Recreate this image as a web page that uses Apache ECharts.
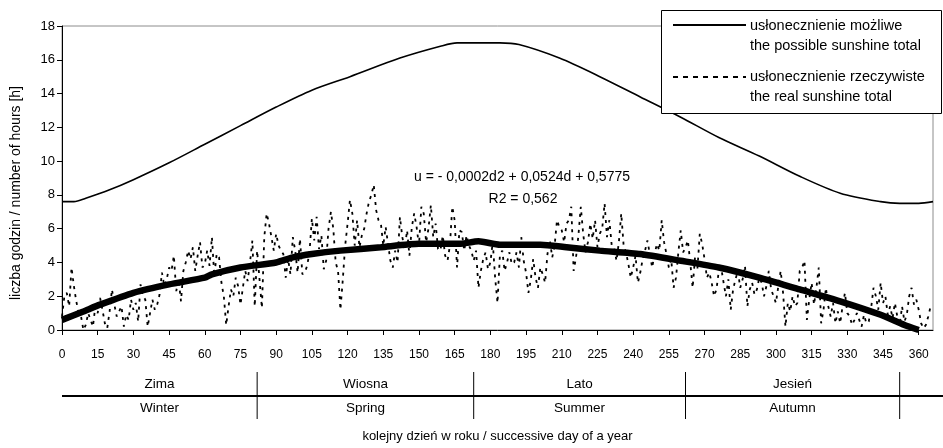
<!DOCTYPE html>
<html>
<head>
<meta charset="utf-8">
<script src="https://cdn.jsdelivr.net/npm/echarts@6/dist/echarts.min.js"></script>
<style>
html, body { margin: 0; padding: 0; background: #fff; }
#main { width: 943px; height: 448px; }
</style>
</head>
<body>
<div id="main"></div>
<script>
var myChart = echarts.init(document.getElementById('main'));

// daily real sunshine, day 0..365
var realSunshine = [
    0.8, 2.0, 2.2, 1.4, 3.7, 2.6, 1.7, 1.0, 0.8, 0.0,
    0.3, 1.0, 0.6, 0.2, 1.4, 1.0, 1.9, 1.2, 0.4, 0.1,
    1.1, 2.4, 1.5, 0.8, 1.1, 1.4, 0.2, 0.9, 0.6, 1.8,
    1.2, 1.6, 0.5, 2.7, 2.0, 1.8, 0.2, 1.0, 1.8, 1.2,
    1.5, 2.1, 3.4, 2.6, 3.0, 3.7, 3.5, 4.4, 2.3, 3.0,
    1.7, 3.5, 4.0, 4.7, 4.2, 4.9, 3.5, 4.4, 5.2, 3.7,
    3.9, 4.7, 3.8, 5.5, 3.2, 4.5, 4.3, 2.8, 2.0, 0.3,
    1.4, 2.4, 2.0, 3.1, 2.6, 1.5, 2.5, 3.5, 2.9, 4.0,
    5.3, 1.4, 4.7, 3.0, 1.3, 5.5, 6.9, 6.3, 5.5, 4.7,
    5.7, 5.0, 4.7, 4.5, 3.1, 4.2, 3.3, 5.5, 4.7, 3.4,
    5.4, 3.3, 3.4, 3.8, 4.6, 6.6, 5.3, 6.7, 4.8, 5.6,
    3.6, 4.1, 6.0, 7.0, 6.0, 4.0, 3.5, 1.2, 3.0, 5.0,
    6.3, 7.7, 6.9, 5.0, 6.5, 4.9, 5.6, 6.0, 6.9, 7.6,
    8.0, 8.6, 7.1, 6.5, 6.3, 5.0, 6.1, 5.1, 4.1, 3.7,
    4.7, 4.0, 6.7, 5.5, 4.8, 5.9, 4.4, 6.1, 6.9, 6.1,
    5.0, 7.3, 6.9, 5.2, 6.0, 7.4, 5.5, 6.3, 4.8, 4.7,
    5.6, 4.4, 4.1, 5.0, 7.3, 6.5, 3.7, 5.9, 5.8, 4.7,
    5.6, 5.0, 4.7, 4.1, 4.7, 2.5, 3.5, 4.2, 4.6, 3.6,
    4.0, 5.2, 3.1, 1.6, 4.4, 4.7, 3.5, 4.0, 4.6, 3.9,
    4.0, 4.6, 3.7, 5.5, 4.1, 3.4, 2.2, 3.0, 4.2, 3.1,
    2.5, 3.7, 3.3, 2.8, 4.5, 5.3, 4.3, 5.0, 6.5, 6.1,
    5.9, 5.2, 6.3, 6.5, 7.3, 3.5, 4.3, 5.6, 7.3, 5.7,
    4.6, 5.2, 6.3, 5.4, 6.5, 4.9, 5.7, 6.0, 7.5, 5.5,
    6.5, 5.0, 4.9, 4.1, 5.2, 6.9, 5.0, 4.6, 3.9, 3.1,
    3.7, 4.4, 2.8, 3.4, 4.2, 4.7, 5.3, 4.5, 3.7, 4.5,
    5.1, 4.7, 6.5, 5.2, 4.5, 3.7, 4.2, 2.5, 3.1, 4.6,
    5.9, 4.6, 4.9, 5.3, 4.0, 2.5, 4.3, 3.6, 5.7, 5.1,
    4.2, 3.1, 3.4, 2.8, 2.0, 2.4, 3.5, 3.7, 2.8, 2.0,
    3.0, 1.2, 2.4, 3.0, 3.5, 2.5, 3.0, 3.8, 1.4, 2.4,
    2.8, 2.1, 2.4, 3.1, 2.8, 2.0, 2.6, 3.5, 2.4, 2.0,
    1.6, 2.6, 3.5, 2.2, 0.2, 1.6, 1.1, 2.0, 1.4, 1.6,
    3.5, 3.7, 4.1, 0.6, 1.8, 2.8, 1.5, 2.5, 3.7, 0.4,
    1.2, 2.5, 1.4, 0.8, 1.6, 0.4, 1.1, 0.4, 1.4, 2.2,
    1.0, 0.8, 0.3, 0.6, 1.0, 0.6, 0.2, 0.9, 0.4, 0.5,
    1.3, 2.5, 2.0, 1.2, 2.8, 1.6, 2.0, 0.9, 1.4, 0.7,
    1.6, 0.8, 0.3, 1.4, 0.5, 0.9, 2.0, 2.5, 1.5, 1.8,
    1.2, 0.4, 0.1, 0.3, 0.8, 1.4
];

// possible sunshine (day length), read at sample days
var possibleDays = [0, 5, 10, 20, 30, 45, 60, 75, 90, 105, 121, 142, 159, 166, 175, 184, 192, 209, 226, 243, 260, 276, 293, 310, 327, 344, 352, 360, 366];
var possibleHours = [7.6, 7.6, 7.8, 8.3, 8.9, 9.9, 11.0, 12.1, 13.2, 14.2, 15.0, 16.1, 16.8, 17.0, 17.0, 17.0, 16.9, 16.1, 15.0, 13.8, 12.6, 11.4, 10.3, 9.1, 8.1, 7.6, 7.5, 7.5, 7.6];

// trend line
var trendDays = [0, 9, 16, 30, 45, 60, 63, 75, 90, 97, 105, 117, 134, 150, 167, 175, 184, 201, 212, 226, 243, 260, 276, 293, 310, 327, 344, 354, 360];
var trendHours = [0.6, 1.1, 1.5, 2.2, 2.7, 3.1, 3.3, 3.7, 4.0, 4.3, 4.5, 4.7, 4.9, 5.1, 5.1, 5.25, 5.05, 5.05, 4.9, 4.7, 4.5, 4.1, 3.7, 3.1, 2.4, 1.7, 0.9, 0.3, 0.0];

var seasonsPl = ['Zima', 'Wiosna', 'Lato', 'Jesień'];
var seasonsEn = ['Winter', 'Spring', 'Summer', 'Autumn'];
var seasonBreaks = [0, 82, 173, 262, 352];

var equationText = 'u = - 0,0002d2 + 0,0524d + 0,5775';
var r2Text = 'R2 = 0,562';
var yTitle = 'liczba godzin / number of hours [h]';

var FONT = '"Liberation Sans", Arial, sans-serif';

function pairs(xs, ys) {
    var res = [];
    for (var i = 0; i < xs.length; i++) {
        res.push([xs[i], ys[i]]);
    }
    return res;
}

var realData = realSunshine.map(function (v, i) { return [i, v]; });

option = {
    animation: false,
    backgroundColor: '#fff',
    textStyle: { fontFamily: FONT },
    grid: {
        left: 62, right: 10, top: 26, bottom: 118,
        show: true, borderColor: '#8c8c8c', borderWidth: 1
    },
    xAxis: {
        type: 'value',
        min: 0, max: 366, interval: 15,
        splitLine: { show: false },
        axisLine: { lineStyle: { color: '#000', width: 1 } },
        axisTick: { length: 5, lineStyle: { color: '#000' } },
        axisLabel: { color: '#000', fontSize: 12, margin: 19, showMaxLabel: false, fontFamily: FONT },
        name: 'kolejny dzień w roku / successive day of a year',
        nameLocation: 'middle',
        nameGap: 100,
        nameTextStyle: { color: '#000', fontSize: 13, fontFamily: FONT }
    },
    yAxis: {
        type: 'value',
        min: 0, max: 18, interval: 2,
        splitLine: { show: false },
        axisLine: { show: true, lineStyle: { color: '#000', width: 1 } },
        axisTick: { show: true, length: 5, lineStyle: { color: '#000' } },
        axisLabel: { color: '#000', fontSize: 13, margin: 7, fontFamily: FONT }
    },
    series: [{
        name: 'usłonecznienie rzeczywiste',
        type: 'line',
        data: realData,
        showSymbol: false,
        lineStyle: { color: '#000', width: 1.8, type: [3, 5] },
        z: 2
    }, {
        name: 'usłonecznienie możliwe',
        type: 'line',
        data: pairs(possibleDays, possibleHours),
        showSymbol: false,
        smooth: 0.3,
        lineStyle: { color: '#000', width: 1.6 },
        z: 3
    }, {
        name: 'trend',
        type: 'line',
        data: pairs(trendDays, trendHours),
        showSymbol: false,
        smooth: 0.2,
        lineStyle: { color: '#000', width: 6.5 },
        z: 4
    }]
};

myChart.setOption(option);

// annotations: y title, equation, legend box, season table
var graphics = [];
graphics.push({
    type: 'text', x: 16, y: 193, rotation: Math.PI / 2, z: 10,
    style: { text: yTitle, fill: '#000', font: '14px ' + FONT, textAlign: 'center', textVerticalAlign: 'middle' }
});
graphics.push({
    type: 'text', x: 522, y: 177, z: 10,
    style: { text: equationText, fill: '#000', font: '14px ' + FONT, textAlign: 'center', textVerticalAlign: 'middle' }
});
graphics.push({
    type: 'text', x: 523, y: 199, z: 10,
    style: { text: r2Text, fill: '#000', font: '14px ' + FONT, textAlign: 'center', textVerticalAlign: 'middle' }
});

// legend box
graphics.push({
    type: 'rect', z: 20,
    shape: { x: 661.5, y: 10.5, width: 280, height: 103 },
    style: { fill: '#fff', stroke: '#000', lineWidth: 1 }
});
graphics.push({
    type: 'line', z: 21,
    shape: { x1: 673, y1: 25, x2: 746, y2: 25 },
    style: { stroke: '#000', lineWidth: 2 }
});
graphics.push({
    type: 'line', z: 21,
    shape: { x1: 673, y1: 77, x2: 746, y2: 77 },
    style: { stroke: '#000', lineWidth: 2, lineDash: [5, 5] }
});
var legendLines = [
    ['usłonecznienie możliwe', 26],
    ['the possible sunshine total', 46],
    ['usłonecznienie rzeczywiste', 77],
    ['the real sunshine total', 97]
];
legendLines.forEach(function (l) {
    graphics.push({
        type: 'text', x: 750, y: l[1], z: 21,
        style: { text: l[0], fill: '#000', font: '14.5px ' + FONT, textVerticalAlign: 'middle' }
    });
});

// season table under the axis
var yTop = 372, yMid = 396, yBot = 419;
graphics.push({
    type: 'line', z: 10,
    shape: { x1: 62, y1: yMid, x2: 943, y2: yMid },
    style: { stroke: '#000', lineWidth: 2 }
});
var px = seasonBreaks.map(function (d) { return myChart.convertToPixel({ xAxisIndex: 0 }, d); });
for (var i = 1; i < px.length; i++) {
    graphics.push({
        type: 'line', z: 10,
        shape: { x1: px[i], y1: yTop, x2: px[i], y2: yBot },
        style: { stroke: '#000', lineWidth: 1 }
    });
}
for (var j = 0; j < seasonsPl.length; j++) {
    var cx = (px[j] + px[j + 1]) / 2;
    graphics.push({
        type: 'text', x: cx, y: 384, z: 10,
        style: { text: seasonsPl[j], fill: '#000', font: '13.5px ' + FONT, textAlign: 'center', textVerticalAlign: 'middle' }
    });
    graphics.push({
        type: 'text', x: cx, y: 408, z: 10,
        style: { text: seasonsEn[j], fill: '#000', font: '13.5px ' + FONT, textAlign: 'center', textVerticalAlign: 'middle' }
    });
}

myChart.setOption({ graphic: graphics });
</script>
</body>
</html>
